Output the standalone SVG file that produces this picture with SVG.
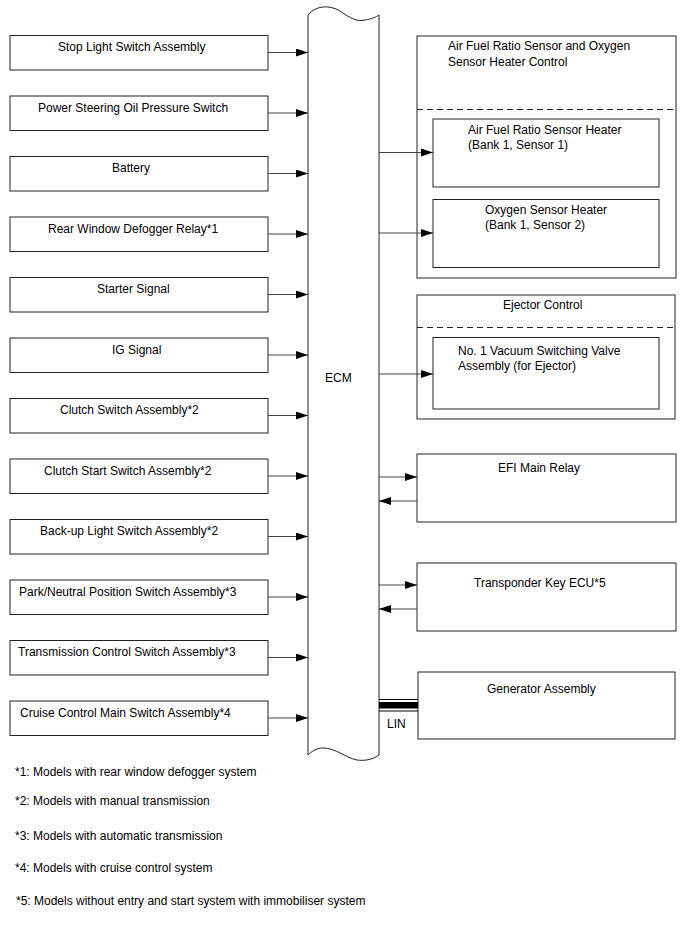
<svg xmlns="http://www.w3.org/2000/svg" width="688" height="949" viewBox="0 0 688 949">
<defs>
<style>
text{font-family:"Liberation Sans",Arial,sans-serif;font-size:12px;fill:#000}
.box{fill:#fff;stroke:#222;stroke-width:1}
.dash{fill:none;stroke:#222;stroke-width:1;stroke-dasharray:6 4}
.ln{fill:none;stroke:#444;stroke-width:1}
</style>
<marker id="ah" viewBox="0 0 12 8" refX="12" refY="4" markerWidth="12" markerHeight="8" markerUnits="userSpaceOnUse" orient="auto">
<path d="M0,0 L12,4 L0,8 Z" fill="#000"/>
</marker>
</defs>
<rect width="688" height="949" fill="#fff"/>

<g id="ecm">
<path class="box" d="M308,15 C316,5 330,5 340,11 C350,18 357,22 365,20 C372,19 376,17 379,15 L379,755 C372,760 364,761 357,760 C346,758 336,748 323,748 C316,748 311,752 308,755 Z"/>
<text x="325" y="382">ECM</text>
</g>

<g id="n1"><rect class="box" x="10" y="35.5" width="258" height="34.5"/><text x="58" y="51">Stop Light Switch Assembly</text></g>
<g id="n2"><rect class="box" x="10" y="96" width="258" height="34.5"/><text x="38" y="111.5">Power Steering Oil Pressure Switch</text></g>
<g id="n3"><rect class="box" x="10" y="156.5" width="258" height="34.5"/><text x="112" y="172">Battery</text></g>
<g id="n4"><rect class="box" x="10" y="217" width="258" height="34.5"/><text x="48" y="232.5">Rear Window Defogger Relay*1</text></g>
<g id="n5"><rect class="box" x="10" y="277.5" width="258" height="34.5"/><text x="97" y="293">Starter Signal</text></g>
<g id="n6"><rect class="box" x="10" y="338" width="258" height="34.5"/><text x="112" y="353.5">IG Signal</text></g>
<g id="n7"><rect class="box" x="10" y="398.5" width="258" height="34.5"/><text x="60" y="414">Clutch Switch Assembly*2</text></g>
<g id="n8"><rect class="box" x="10" y="459" width="258" height="34.5"/><text x="44" y="474.5">Clutch Start Switch Assembly*2</text></g>
<g id="n9"><rect class="box" x="10" y="519.5" width="258" height="34.5"/><text x="40" y="535">Back-up Light Switch Assembly*2</text></g>
<g id="n10"><rect class="box" x="10" y="580" width="258" height="34.5"/><text x="19" y="595.5">Park/Neutral Position Switch Assembly*3</text></g>
<g id="n11"><rect class="box" x="10" y="640.5" width="258" height="34.5"/><text x="18" y="656">Transmission Control Switch Assembly*3</text></g>
<g id="n12"><rect class="box" x="10" y="701" width="258" height="34.5"/><text x="20" y="716.5">Cruise Control Main Switch Assembly*4</text></g>

<g id="afr">
<rect class="box" x="417" y="36" width="259" height="242"/>
<text x="448" y="50">Air Fuel Ratio Sensor and Oxygen</text>
<text x="448" y="66">Sensor Heater Control</text>
<line class="dash" x1="417" y1="109.5" x2="676" y2="109.5"/>
</g>
<g id="afrh"><rect class="box" x="433" y="119" width="226" height="68"/><text x="468" y="134">Air Fuel Ratio Sensor Heater</text><text x="468" y="149">(Bank 1, Sensor 1)</text></g>
<g id="o2h"><rect class="box" x="433" y="199.5" width="226" height="68"/><text x="485" y="214">Oxygen Sensor Heater</text><text x="485" y="229">(Bank 1, Sensor 2)</text></g>

<g id="ejector">
<rect class="box" x="417" y="295" width="258" height="124"/>
<text x="503" y="309">Ejector Control</text>
<line class="dash" x1="417" y1="327.5" x2="675" y2="327.5"/>
</g>
<g id="vsv"><rect class="box" x="433" y="337.5" width="226" height="71.5"/><text x="458" y="355">No. 1 Vacuum Switching Valve</text><text x="458" y="370">Assembly (for Ejector)</text></g>

<g id="efi"><rect class="box" x="417" y="454" width="259" height="68"/><text x="498" y="472">EFI Main Relay</text></g>
<g id="tke"><rect class="box" x="417" y="563" width="259" height="68"/><text x="474" y="587">Transponder Key ECU*5</text></g>
<g id="gen"><rect class="box" x="418" y="672" width="257" height="67"/><text x="487" y="693">Generator Assembly</text></g>

<g id="connectors">
<line class="ln" x1="268" y1="52.5" x2="308" y2="52.5" marker-end="url(#ah)"/>
<line class="ln" x1="268" y1="113" x2="308" y2="113" marker-end="url(#ah)"/>
<line class="ln" x1="268" y1="173.5" x2="308" y2="173.5" marker-end="url(#ah)"/>
<line class="ln" x1="268" y1="234" x2="308" y2="234" marker-end="url(#ah)"/>
<line class="ln" x1="268" y1="294.5" x2="308" y2="294.5" marker-end="url(#ah)"/>
<line class="ln" x1="268" y1="355" x2="308" y2="355" marker-end="url(#ah)"/>
<line class="ln" x1="268" y1="415.5" x2="308" y2="415.5" marker-end="url(#ah)"/>
<line class="ln" x1="268" y1="476" x2="308" y2="476" marker-end="url(#ah)"/>
<line class="ln" x1="268" y1="536.5" x2="308" y2="536.5" marker-end="url(#ah)"/>
<line class="ln" x1="268" y1="597" x2="308" y2="597" marker-end="url(#ah)"/>
<line class="ln" x1="268" y1="657.5" x2="308" y2="657.5" marker-end="url(#ah)"/>
<line class="ln" x1="268" y1="718" x2="308" y2="718" marker-end="url(#ah)"/>
<line class="ln" x1="379" y1="152.5" x2="433" y2="152.5" marker-end="url(#ah)"/>
<line class="ln" x1="379" y1="233" x2="433" y2="233" marker-end="url(#ah)"/>
<line class="ln" x1="379" y1="374" x2="433" y2="374" marker-end="url(#ah)"/>
<line class="ln" x1="379" y1="477" x2="417" y2="477" marker-end="url(#ah)"/>
<line class="ln" x1="417" y1="501" x2="379" y2="501" marker-end="url(#ah)"/>
<line class="ln" x1="379" y1="585" x2="417" y2="585" marker-end="url(#ah)"/>
<line class="ln" x1="417" y1="609" x2="379" y2="609" marker-end="url(#ah)"/>
<line x1="379" y1="699.5" x2="418" y2="699.5" stroke="#000" stroke-width="1"/>
<rect x="379" y="702" width="39" height="6.5" fill="#000"/>
<line x1="379" y1="711" x2="418" y2="711" stroke="#000" stroke-width="1"/>
<text x="387" y="728">LIN</text>
</g>

<g id="notes">
<text x="15" y="776">*1: Models with rear window defogger system</text>
<text x="15" y="805">*2: Models with manual transmission</text>
<text x="15" y="840">*3: Models with automatic transmission</text>
<text x="15" y="872">*4: Models with cruise control system</text>
<text x="16" y="905">*5: Models without entry and start system with immobiliser system</text>
</g>
</svg>
